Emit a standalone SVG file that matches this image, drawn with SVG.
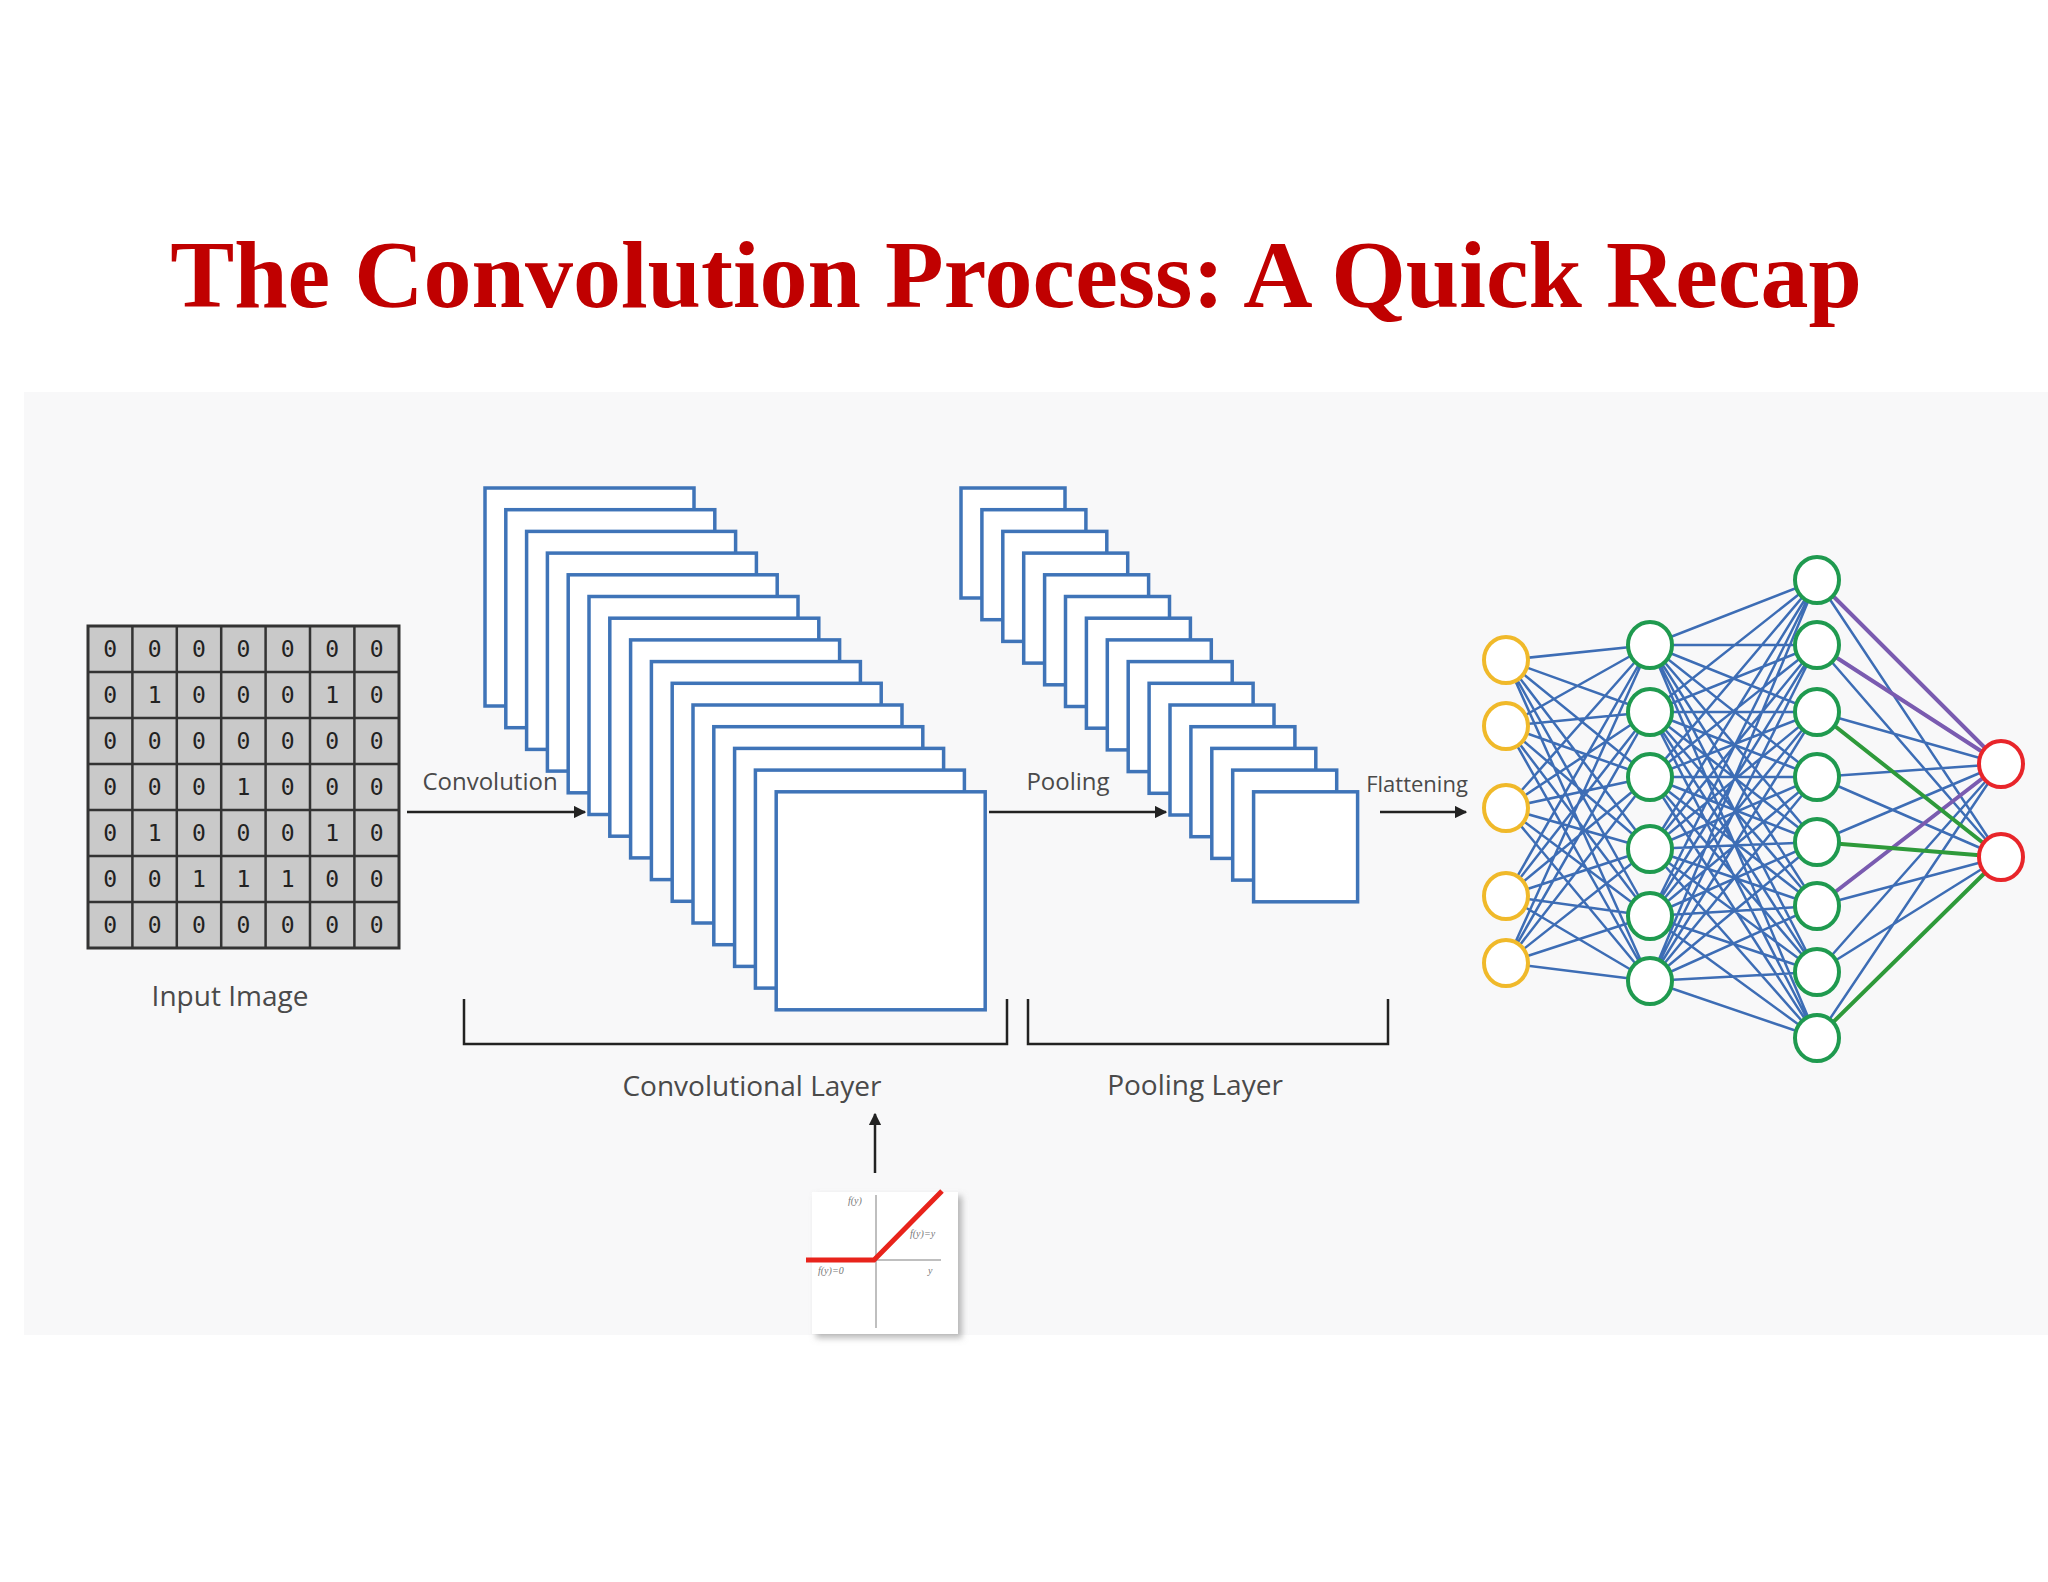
<svg xmlns="http://www.w3.org/2000/svg" width="2048" height="1582" viewBox="0 0 2048 1582">
<defs>
<style>
.fm{fill:#fff;stroke:#3f74b8;stroke-width:3.5}
.lbl{font-family:"Open Sans","DejaVu Sans",sans-serif;fill:#4a4a4a}
.dg{font-family:"DejaVu Sans Mono",monospace;font-size:23px;fill:#222;text-anchor:middle}
.ax{stroke:#222;stroke-width:2.5;fill:none}
.e{stroke:#3d6db5;stroke-width:2.5;fill:none}
.nY{fill:#fff;stroke:#f0b92a;stroke-width:4}
.nG{fill:#fff;stroke:#1f9a4f;stroke-width:4}
.nR{fill:#fff;stroke:#e8252a;stroke-width:4}
.tiny{font-family:"Liberation Serif",serif;font-style:italic;font-size:10px;fill:#777}
</style>
<marker id="ah" viewBox="0 0 10 10" refX="9" refY="5" markerWidth="5" markerHeight="5" orient="auto"><path d="M0,0 L10,5 L0,10 z" fill="#222"/></marker>
<filter id="sh" x="-10%" y="-10%" width="130%" height="130%"><feDropShadow dx="4" dy="4" stdDeviation="3" flood-color="#888" flood-opacity="0.6"/></filter>
</defs>
<rect width="2048" height="1582" fill="#fff"/>
<rect x="24" y="392" width="2024" height="943" fill="#f8f8f9"/>
<text x="1016" y="307" text-anchor="middle" font-family="Liberation Serif,serif" font-weight="bold" font-size="96" fill="#c00000">The Convolution Process: A Quick Recap</text>

<g id="input-image">
<rect x="88" y="626" width="311" height="322" fill="#c9c9c9" stroke="#333" stroke-width="3"/>
<path d="M132.4 626V948M176.8 626V948M221.2 626V948M265.6 626V948M310 626V948M354.4 626V948M88 672H399M88 718H399M88 764H399M88 810H399M88 856H399M88 902H399" stroke="#333" stroke-width="2.5"/>
<g class="dg">
<text x="110.2" y="657">0</text><text x="154.6" y="657">0</text><text x="199" y="657">0</text><text x="243.4" y="657">0</text><text x="287.8" y="657">0</text><text x="332.2" y="657">0</text><text x="376.6" y="657">0</text>
<text x="110.2" y="703">0</text><text x="154.6" y="703">1</text><text x="199" y="703">0</text><text x="243.4" y="703">0</text><text x="287.8" y="703">0</text><text x="332.2" y="703">1</text><text x="376.6" y="703">0</text>
<text x="110.2" y="749">0</text><text x="154.6" y="749">0</text><text x="199" y="749">0</text><text x="243.4" y="749">0</text><text x="287.8" y="749">0</text><text x="332.2" y="749">0</text><text x="376.6" y="749">0</text>
<text x="110.2" y="795">0</text><text x="154.6" y="795">0</text><text x="199" y="795">0</text><text x="243.4" y="795">1</text><text x="287.8" y="795">0</text><text x="332.2" y="795">0</text><text x="376.6" y="795">0</text>
<text x="110.2" y="841">0</text><text x="154.6" y="841">1</text><text x="199" y="841">0</text><text x="243.4" y="841">0</text><text x="287.8" y="841">0</text><text x="332.2" y="841">1</text><text x="376.6" y="841">0</text>
<text x="110.2" y="887">0</text><text x="154.6" y="887">0</text><text x="199" y="887">1</text><text x="243.4" y="887">1</text><text x="287.8" y="887">1</text><text x="332.2" y="887">0</text><text x="376.6" y="887">0</text>
<text x="110.2" y="933">0</text><text x="154.6" y="933">0</text><text x="199" y="933">0</text><text x="243.4" y="933">0</text><text x="287.8" y="933">0</text><text x="332.2" y="933">0</text><text x="376.6" y="933">0</text>
</g>
<text class="lbl" x="230" y="1006" font-size="28" text-anchor="middle">Input Image</text>
</g>

<g id="conv-stack">
<rect class="fm" x="485" y="488" width="209" height="218"/>
<rect class="fm" x="505.8" y="509.7" width="209" height="218"/>
<rect class="fm" x="526.6" y="531.4" width="209" height="218"/>
<rect class="fm" x="547.4" y="553.1" width="209" height="218"/>
<rect class="fm" x="568.2" y="574.8" width="209" height="218"/>
<rect class="fm" x="589" y="596.5" width="209" height="218"/>
<rect class="fm" x="609.8" y="618.2" width="209" height="218"/>
<rect class="fm" x="630.6" y="639.9" width="209" height="218"/>
<rect class="fm" x="651.4" y="661.6" width="209" height="218"/>
<rect class="fm" x="672.2" y="683.3" width="209" height="218"/>
<rect class="fm" x="693" y="705" width="209" height="218"/>
<rect class="fm" x="713.8" y="726.7" width="209" height="218"/>
<rect class="fm" x="734.6" y="748.4" width="209" height="218"/>
<rect class="fm" x="755.4" y="770.1" width="209" height="218"/>
<rect class="fm" x="776.2" y="791.8" width="209" height="218"/>
</g>

<g id="pool-stack">
<rect class="fm" x="961" y="488" width="104" height="110"/>
<rect class="fm" x="981.9" y="509.7" width="104" height="110"/>
<rect class="fm" x="1002.8" y="531.4" width="104" height="110"/>
<rect class="fm" x="1023.7" y="553.1" width="104" height="110"/>
<rect class="fm" x="1044.6" y="574.8" width="104" height="110"/>
<rect class="fm" x="1065.5" y="596.5" width="104" height="110"/>
<rect class="fm" x="1086.4" y="618.2" width="104" height="110"/>
<rect class="fm" x="1107.3" y="639.9" width="104" height="110"/>
<rect class="fm" x="1128.2" y="661.6" width="104" height="110"/>
<rect class="fm" x="1149.1" y="683.3" width="104" height="110"/>
<rect class="fm" x="1170" y="705" width="104" height="110"/>
<rect class="fm" x="1190.9" y="726.7" width="104" height="110"/>
<rect class="fm" x="1211.8" y="748.4" width="104" height="110"/>
<rect class="fm" x="1232.7" y="770.1" width="104" height="110"/>
<rect class="fm" x="1253.6" y="791.8" width="104" height="110"/>
</g>

<g id="connectors">
<line class="ax" x1="407" y1="812" x2="585" y2="812" marker-end="url(#ah)"/>
<line class="ax" x1="989" y1="812" x2="1166" y2="812" marker-end="url(#ah)"/>
<line class="ax" x1="1380" y1="812" x2="1466" y2="812" marker-end="url(#ah)"/>
<line class="ax" x1="875" y1="1173" x2="875" y2="1114" marker-end="url(#ah)"/>
<path class="e" d="M1506 660L1650 645M1506 660L1650 712M1506 660L1650 777M1506 660L1650 849M1506 660L1650 916M1506 660L1650 981
M1506 726L1650 645M1506 726L1650 712M1506 726L1650 777M1506 726L1650 849M1506 726L1650 916M1506 726L1650 981
M1506 808L1650 645M1506 808L1650 712M1506 808L1650 777M1506 808L1650 849M1506 808L1650 916M1506 808L1650 981
M1506 896L1650 645M1506 896L1650 712M1506 896L1650 777M1506 896L1650 849M1506 896L1650 916M1506 896L1650 981
M1506 963L1650 645M1506 963L1650 712M1506 963L1650 777M1506 963L1650 849M1506 963L1650 916M1506 963L1650 981"/>
<path class="e" d="M1650 645L1817 580M1650 645L1817 645M1650 645L1817 712M1650 645L1817 777M1650 645L1817 842M1650 645L1817 906M1650 645L1817 972M1650 645L1817 1038
M1650 712L1817 580M1650 712L1817 645M1650 712L1817 712M1650 712L1817 777M1650 712L1817 842M1650 712L1817 906M1650 712L1817 972M1650 712L1817 1038
M1650 777L1817 580M1650 777L1817 645M1650 777L1817 712M1650 777L1817 777M1650 777L1817 842M1650 777L1817 906M1650 777L1817 972M1650 777L1817 1038
M1650 849L1817 580M1650 849L1817 645M1650 849L1817 712M1650 849L1817 777M1650 849L1817 842M1650 849L1817 906M1650 849L1817 972M1650 849L1817 1038
M1650 916L1817 580M1650 916L1817 645M1650 916L1817 712M1650 916L1817 777M1650 916L1817 842M1650 916L1817 906M1650 916L1817 972M1650 916L1817 1038
M1650 981L1817 580M1650 981L1817 645M1650 981L1817 712M1650 981L1817 777M1650 981L1817 842M1650 981L1817 906M1650 981L1817 972M1650 981L1817 1038"/>
<path class="e" d="M1817 580L2001 857M1817 645L2001 857M1817 712L2001 764M1817 777L2001 764M1817 777L2001 857M1817 842L2001 764M1817 906L2001 857M1817 972L2001 764M1817 972L2001 857M1817 1038L2001 764"/>
<path d="M1817 580L2001 764M1817 645L2001 764M1817 906L2001 764" stroke="#7a5bb0" stroke-width="4" fill="none"/>
<path d="M1817 712L2001 857M1817 842L2001 857M1817 1038L2001 857" stroke="#2e9a3a" stroke-width="4" fill="none"/>
</g>

<g id="labels">
<text class="lbl" x="490" y="790" font-size="24" text-anchor="middle">Convolution</text>
<text class="lbl" x="1068" y="790" font-size="24" text-anchor="middle">Pooling</text>
<text class="lbl" x="1417" y="792" font-size="22" text-anchor="middle">Flattening</text>
</g>

<g id="brackets">
<path d="M464 999V1044H1007V999" class="ax" stroke="#333"/>
<path d="M1028 999V1044H1388V999" class="ax" stroke="#333"/>
<text class="lbl" x="752" y="1096" font-size="28" text-anchor="middle">Convolutional Layer</text>
<text class="lbl" x="1195" y="1095" font-size="28" text-anchor="middle">Pooling Layer</text>
</g>

<g id="relu">
<rect x="812" y="1192" width="146" height="142" fill="#fff" filter="url(#sh)"/>
<path d="M876 1195V1328M874 1260H941" stroke="#aaa" stroke-width="1.5" fill="none"/>
<path d="M806 1260H874L942 1191" stroke="#e8231b" stroke-width="5" fill="none"/>
<text class="tiny" x="848" y="1204">f(y)</text>
<text class="tiny" x="910" y="1237">f(y)=y</text>
<text class="tiny" x="818" y="1274">f(y)=0</text>
<text class="tiny" x="928" y="1274">y</text>
</g>

<g id="nn-input">
<ellipse class="nY" cx="1506" cy="660" rx="22" ry="23"/><ellipse class="nY" cx="1506" cy="726" rx="22" ry="23"/><ellipse class="nY" cx="1506" cy="808" rx="22" ry="23"/><ellipse class="nY" cx="1506" cy="896" rx="22" ry="23"/><ellipse class="nY" cx="1506" cy="963" rx="22" ry="23"/>
</g>
<g id="nn-hidden1">
<ellipse class="nG" cx="1650" cy="645" rx="22" ry="23"/><ellipse class="nG" cx="1650" cy="712" rx="22" ry="23"/><ellipse class="nG" cx="1650" cy="777" rx="22" ry="23"/><ellipse class="nG" cx="1650" cy="849" rx="22" ry="23"/><ellipse class="nG" cx="1650" cy="916" rx="22" ry="23"/><ellipse class="nG" cx="1650" cy="981" rx="22" ry="23"/>
</g>
<g id="nn-hidden2">
<ellipse class="nG" cx="1817" cy="580" rx="22" ry="23"/><ellipse class="nG" cx="1817" cy="645" rx="22" ry="23"/><ellipse class="nG" cx="1817" cy="712" rx="22" ry="23"/><ellipse class="nG" cx="1817" cy="777" rx="22" ry="23"/><ellipse class="nG" cx="1817" cy="842" rx="22" ry="23"/><ellipse class="nG" cx="1817" cy="906" rx="22" ry="23"/><ellipse class="nG" cx="1817" cy="972" rx="22" ry="23"/><ellipse class="nG" cx="1817" cy="1038" rx="22" ry="23"/>
</g>
<g id="nn-output">
<ellipse class="nR" cx="2001" cy="764" rx="22" ry="23"/><ellipse class="nR" cx="2001" cy="857" rx="22" ry="23"/>
</g>
</svg>
